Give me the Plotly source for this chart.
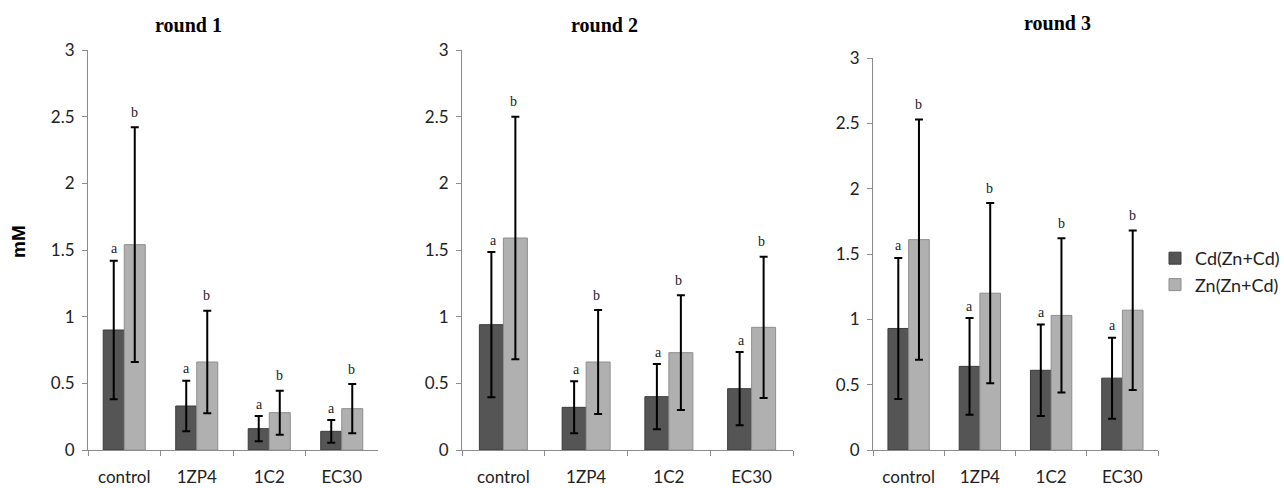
import plotly.graph_objects as go

categories = ["control", "1ZP4", "1C2", "EC30"]
rounds = ["round 1", "round 2", "round 3"]

cd_means = [
    [0.90, 0.33, 0.16, 0.14],
    [0.94, 0.32, 0.40, 0.46],
    [0.93, 0.64, 0.61, 0.55],
]
cd_errs = [
    [0.52, 0.19, 0.095, 0.085],
    [0.545, 0.195, 0.245, 0.275],
    [0.54, 0.37, 0.35, 0.31],
]
zn_means = [
    [1.54, 0.66, 0.28, 0.31],
    [1.59, 0.66, 0.73, 0.92],
    [1.61, 1.20, 1.03, 1.07],
]
zn_errs = [
    [0.88, 0.385, 0.165, 0.185],
    [0.91, 0.39, 0.43, 0.53],
    [0.92, 0.69, 0.59, 0.61],
]
cd_letters = ["a", "a", "a", "a"]
zn_letters = ["b", "b", "b", "b"]

W, H = 1284, 488
CD_COLOR = "#555555"
ZN_COLOR = "#b0b0b0"

# pixel geometry of each panel: (left, right, top, bottom)
panels = [(88, 378, 50, 450), (462, 793, 50, 450), (873, 1158, 58, 450)]
title_centers = [(189, 25), (604, 25), (1057, 23)]

fig = go.Figure()
for i in range(3):
    xa = "x" if i == 0 else f"x{i+1}"
    ya = "y" if i == 0 else f"y{i+1}"
    fig.add_trace(go.Bar(
        x=categories, y=cd_means[i], name="Cd(Zn+Cd)", xaxis=xa, yaxis=ya,
        marker=dict(color=CD_COLOR, line=dict(color="#3c3c3c", width=1)),
        error_y=dict(type="data", array=cd_errs[i], color="black", thickness=2, width=4),
        showlegend=(i == 2), offsetgroup="cd",
    ))
    fig.add_trace(go.Bar(
        x=categories, y=zn_means[i], name="Zn(Zn+Cd)", xaxis=xa, yaxis=ya,
        marker=dict(color=ZN_COLOR, line=dict(color="#8e8e8e", width=1)),
        error_y=dict(type="data", array=zn_errs[i], color="black", thickness=2, width=4),
        showlegend=(i == 2), offsetgroup="zn",
    ))
    l, r, t, b = panels[i]
    axis_common = dict(
        showline=True, linecolor="#8c8c8c", linewidth=1, ticks="outside",
        tickcolor="#8c8c8c", ticklen=5, showgrid=False, zeroline=False,
        automargin=False,
        tickfont=dict(family="Lato, Open Sans, sans-serif", size=17, color="#222"),
    )
    fig.update_layout(**{
        ("xaxis" if i == 0 else f"xaxis{i+1}"): dict(
            domain=[l / W, r / W], anchor=ya, type="category",
            tickson="boundaries", ticklabelstandoff=12, **axis_common),
        ("yaxis" if i == 0 else f"yaxis{i+1}"): dict(
            domain=[1 - b / H, 1 - t / H], anchor=xa, range=[0, 3],
            tickvals=[0, 0.5, 1, 1.5, 2, 2.5, 3],
            ticktext=["0", "0.5", "1", "1.5", "2", "2.5", "3"],
            ticklabelstandoff=4, **axis_common),
    })
    # significance letters above error bars
    for j, cat in enumerate(categories):
        fig.add_annotation(x=cat, y=cd_means[i][j] + cd_errs[i][j], xref=xa, yref=ya,
                           text=cd_letters[j], showarrow=False, xshift=-10, yshift=12,
                           font=dict(family="Liberation Serif, Times New Roman, serif", size=14, color="#222"))
        fig.add_annotation(x=cat, y=zn_means[i][j] + zn_errs[i][j], xref=xa, yref=ya,
                           text=zn_letters[j], showarrow=False, xshift=10, yshift=15,
                           font=dict(family="Liberation Serif, Times New Roman, serif", size=14, color="#222"))
    cx, cy = title_centers[i]
    fig.add_annotation(x=cx / W, y=1 - cy / H, xref="paper", yref="paper",
                       xanchor="center", yanchor="middle",
                       text=f"<b>{rounds[i]}</b>", showarrow=False,
                       font=dict(family="Liberation Serif, Times New Roman, serif", size=20, color="black"))

fig.add_annotation(x=18 / W, y=1 - 242 / H, xref="paper", yref="paper", text="<b>mM</b>",
                   xanchor="center", yanchor="middle",
                   textangle=-90, showarrow=False,
                   font=dict(family="Liberation Sans, Arial, sans-serif", size=19, color="black"))

fig.update_layout(
    width=W, height=H, margin=dict(l=0, r=0, t=0, b=0, autoexpand=False),
    paper_bgcolor="white", plot_bgcolor="white",
    barmode="group", bargap=0.42, bargroupgap=0,
    legend=dict(x=1155 / W, y=1 - 240 / H, xanchor="left", yanchor="top",
                font=dict(family="Lato, Open Sans, sans-serif", size=18, color="#222"),
                itemwidth=30, tracegroupgap=0, bgcolor="rgba(0,0,0,0)"),
)

fig.write_html("out.html", config={"displayModeBar": False},
               post_script="document.body.style.margin='0';")
